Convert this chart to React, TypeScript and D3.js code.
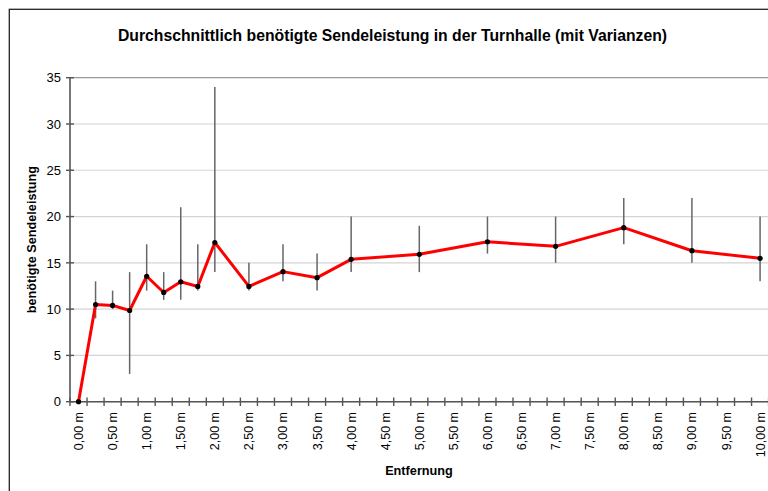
import React from "react";
import * as d3 from "d3";

const categories: number[] = [
  0, 0.25, 0.5, 0.75, 1, 1.25, 1.5, 1.75, 2, 2.25, 2.5, 2.75, 3, 3.25, 3.5, 3.75,
  4, 4.25, 4.5, 4.75, 5, 5.25, 5.5, 5.75, 6, 6.25, 6.5, 6.75, 7, 7.25, 7.5, 7.75,
  8, 8.25, 8.5, 8.75, 9, 9.25, 9.5, 9.75, 10,
];
const distances: number[] = [0, 0.25, 0.5, 0.75, 1, 1.25, 1.5, 1.75, 2, 2.5, 3, 3.5, 4, 5, 6, 7, 8, 9, 10];
const means: number[] = [0, 10.5, 10.4, 9.85, 13.55, 11.8, 12.95, 12.45, 17.2, 12.45, 14.05, 13.4, 15.38, 15.92, 17.28, 16.78, 18.8, 16.31, 15.49];
const lows: number[] = [0, 9, 10, 3, 12, 11, 11, 12, 14, 12, 13, 12, 14, 14, 16, 15, 17, 15, 13];
const highs: number[] = [0, 13, 12, 14, 17, 14, 21, 17, 34, 15, 17, 16, 20, 19, 20, 20, 22, 22, 20];
const yTicks: number[] = [0, 5, 10, 15, 20, 25, 30, 35];

const title = "Durchschnittlich benötigte Sendeleistung in der Turnhalle (mit Varianzen)";
const xTitle = "Entfernung";
const yTitle = "benötigte Sendeleistung";

const W = 768;
const H = 491;
const left = 70;
const right = 768.6;
const top = 77.7;
const bottom = 401.7;
const font = "'Liberation Sans', Arial, sans-serif";

const fmt = (v: number) => d3.format(".2f")(v).replace(".", ",") + " m";

export default function App() {
  const x = d3.scaleBand<number>().domain(categories).range([left, right]).padding(0);
  const y = d3.scaleLinear().domain([0, 35]).range([bottom, top]);
  const bw = x.bandwidth();
  const cx = (d: number) => (x(d) as number) + bw / 2;

  const line = d3
    .line<number>()
    .x((_, i) => cx(distances[i]))
    .y((d) => y(d));

  const boundaries = d3.range(categories.length + 1).map((k) => left + k * bw);

  return (
    <svg
      width={W}
      height={H}
      style={{ position: "absolute", left: 0, top: 0, background: "#fff" }}
      fontFamily={font}
    >
      <rect x={0} y={0} width={W} height={H} fill="#fff" />
      {/* chart border */}
      <rect x={9.3} y={9.3} width={W + 20} height={H + 20} fill="none" stroke="#222" strokeWidth={1.3} />
      <text
        x={392.5}
        y={40.5}
        textAnchor="middle"
        fontSize={16}
        fontWeight="bold"
        fill="#000"
        textLength={549}
        lengthAdjust="spacingAndGlyphs"
      >
        {title}
      </text>

      {/* gridlines */}
      {yTicks.map((t) => (
        <line
          key={"g" + t}
          x1={left}
          x2={W}
          y1={y(t)}
          y2={y(t)}
          stroke={t === 35 ? "#999" : "#d4d4d4"}
          strokeWidth={1.2}
        />
      ))}

      {/* y axis */}
      <line x1={left} x2={left} y1={top} y2={bottom} stroke="#555" strokeWidth={1.6} />
      {yTicks.map((t) => (
        <g key={"yt" + t}>
          <line x1={66} x2={74} y1={y(t)} y2={y(t)} stroke="#555" strokeWidth={1.4} />
          <text x={61} y={y(t)} dy="0.36em" textAnchor="end" fontSize={13} fill="#000">
            {t}
          </text>
        </g>
      ))}

      {/* x axis */}
      <line x1={left} x2={W} y1={bottom} y2={bottom} stroke="#555" strokeWidth={1.6} />
      {boundaries.map((b, k) => (
        <line key={"xt" + k} x1={b} x2={b} y1={397.5} y2={406} stroke="#555" strokeWidth={1.4} />
      ))}
      {categories.map((c, i) =>
        i % 2 === 0 ? (
          <text
            key={"xl" + i}
            transform={`translate(${cx(c)},${412}) rotate(-90)`}
            dy="0.36em"
            textAnchor="end"
            fontSize={12.5}
            fill="#000"
          >
            {fmt(c)}
          </text>
        ) : null
      )}

      {/* error bars */}
      {distances.map((d, i) =>
        highs[i] !== lows[i] ? (
          <line
            key={"e" + i}
            x1={cx(d)}
            x2={cx(d)}
            y1={y(lows[i])}
            y2={y(highs[i])}
            stroke="#666"
            strokeWidth={1.5}
          />
        ) : null
      )}

      {/* line */}
      <path d={line(means) || ""} fill="none" stroke="#ff0000" strokeWidth={3} strokeLinejoin="round" />
      {distances.map((d, i) => (
        <circle key={"m" + i} cx={cx(d)} cy={y(means[i])} r={2.6} fill="#000" />
      ))}

      {/* axis titles */}
      <text x={(left + W) / 2} y={475} textAnchor="middle" fontSize={12.7} fontWeight="bold" fill="#000">
        {xTitle}
      </text>
      <text
        transform={`translate(36,${(top + bottom) / 2}) rotate(-90)`}
        textAnchor="middle"
        fontSize={12.7}
        fontWeight="bold"
        fill="#000"
      >
        {yTitle}
      </text>
    </svg>
  );
}
